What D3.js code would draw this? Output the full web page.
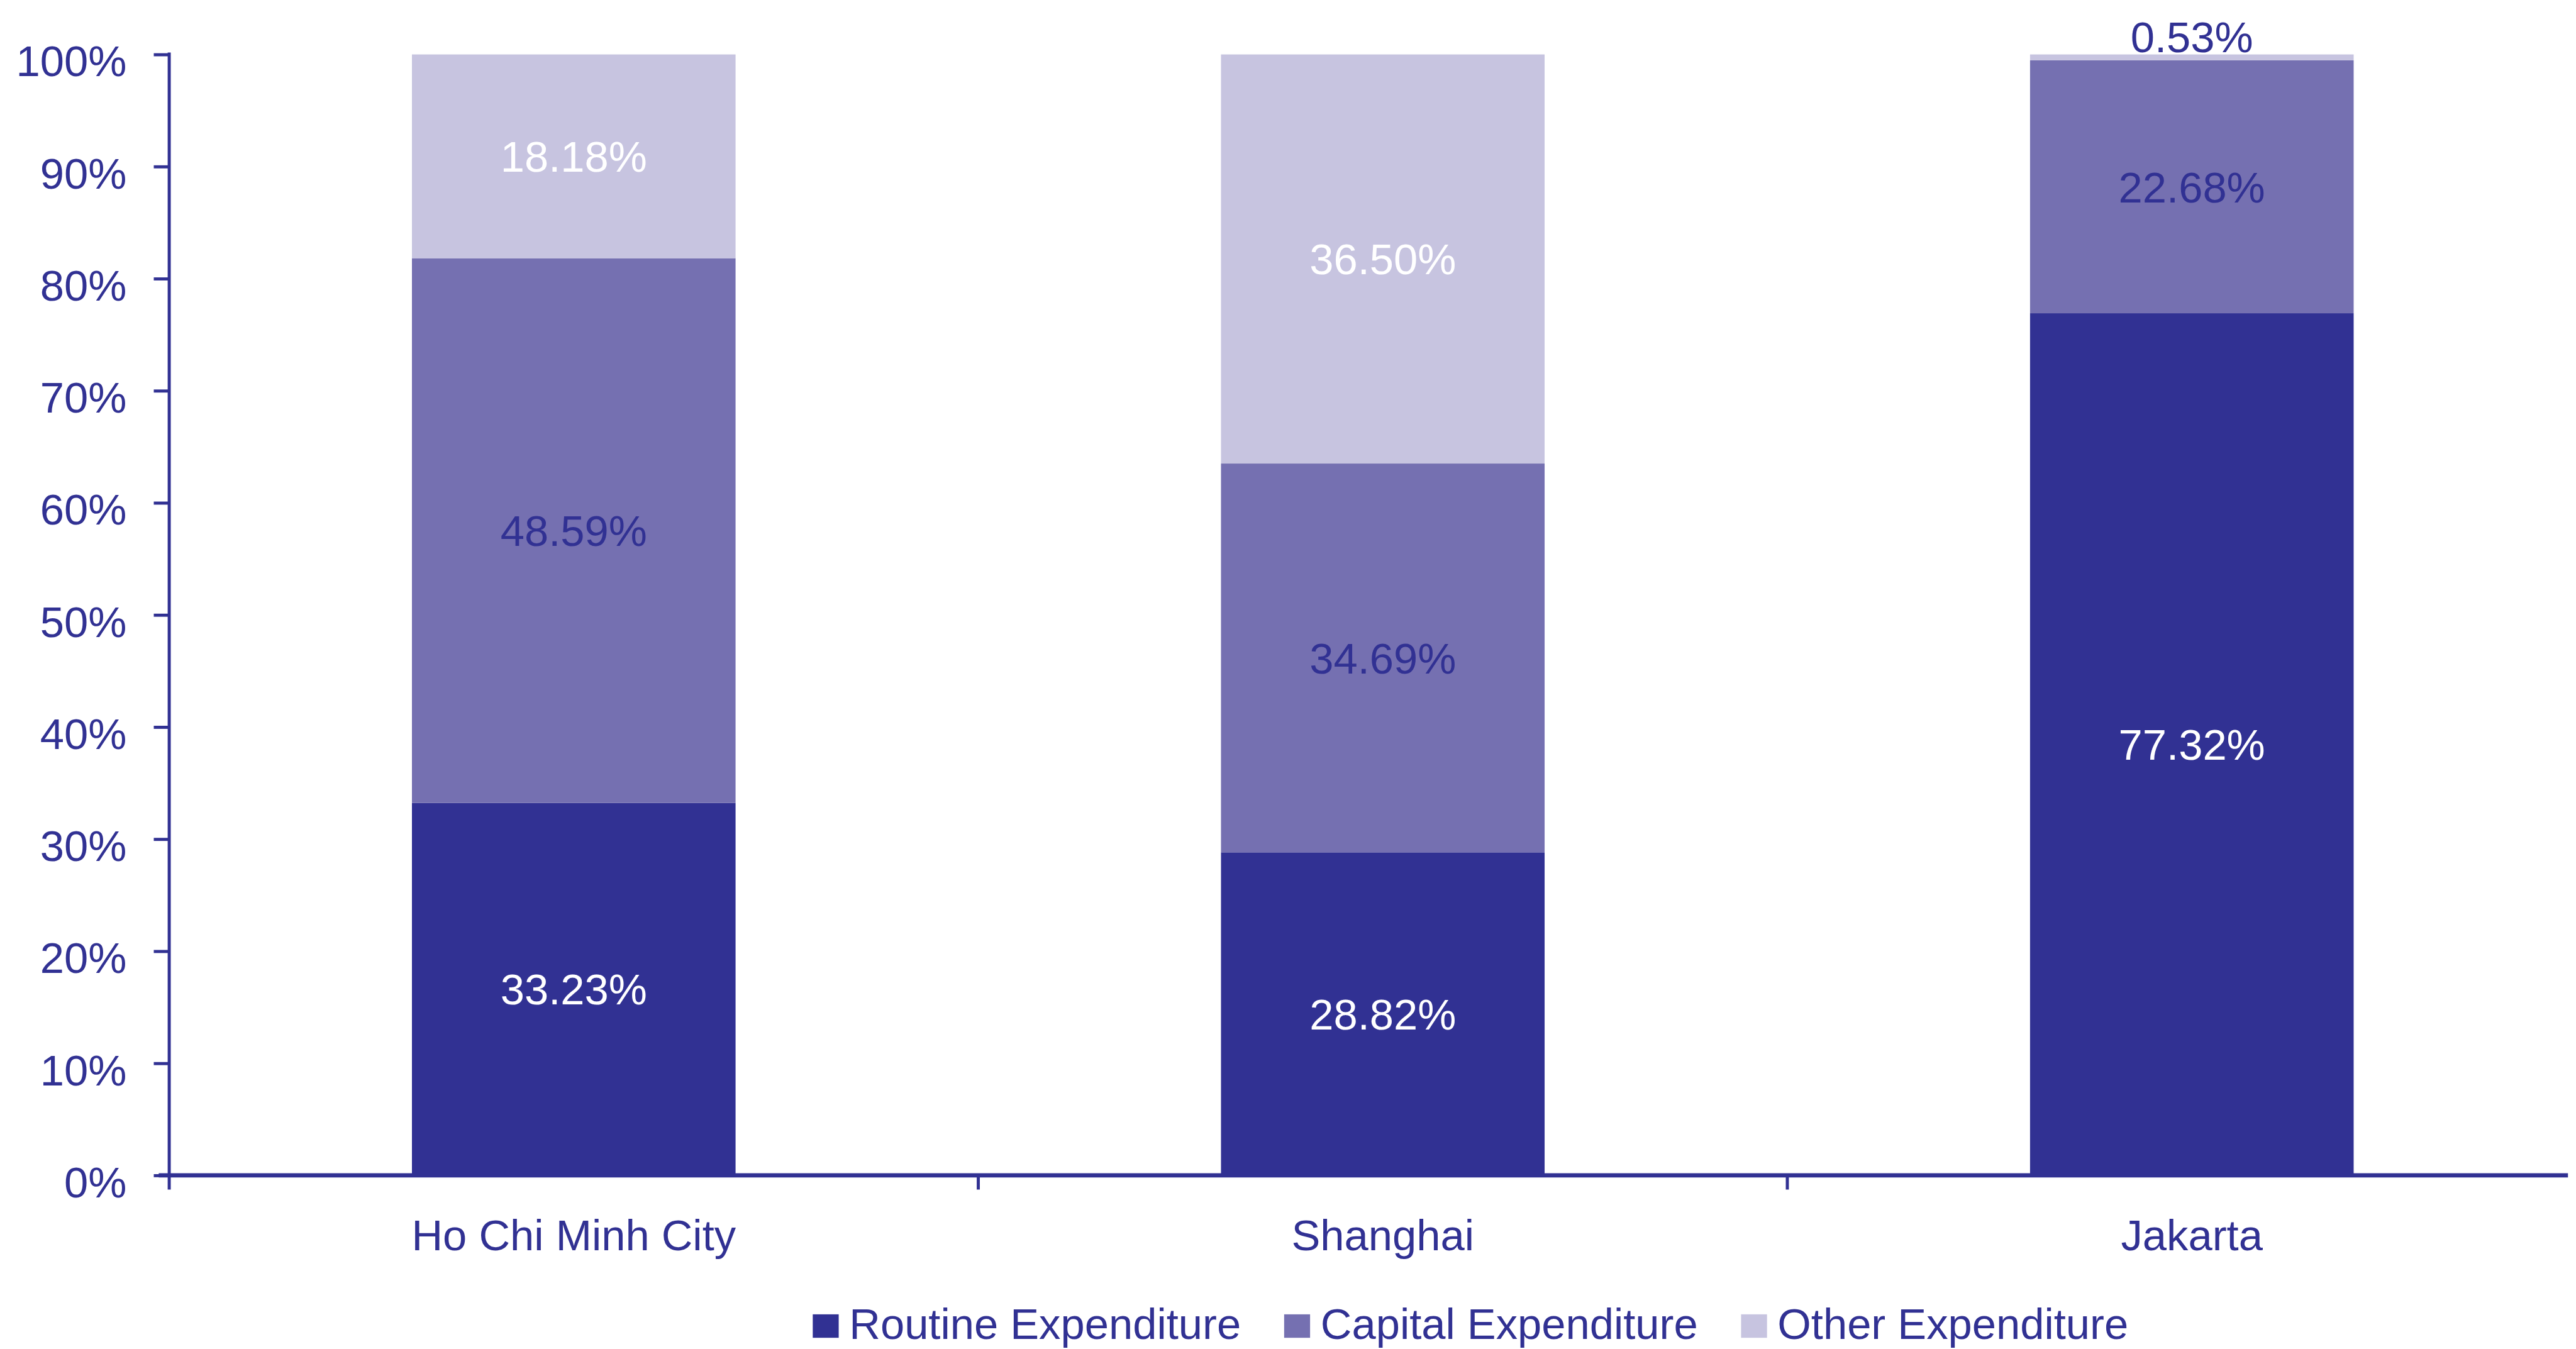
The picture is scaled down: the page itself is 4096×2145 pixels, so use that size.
<!DOCTYPE html>
<html>

<head>
    <meta charset="utf-8">
    <style>
        body {
            margin: 0;
            background: white;
        }

        svg {
            display: block;
            font-family: 'Liberation Sans', Arial, sans-serif;
        }
    </style>
</head>

<body>
    <svg width="4096" height="2145" viewBox="0 0 4171 2184"></svg>
</body>

<script src="https://d3js.org/d3.v7.min.js"></script>

<script>
    // chart data
    let categories = ["Ho Chi Minh City", "Shanghai", "Jakarta"]
    let seriesNames = ["Routine Expenditure", "Capital Expenditure", "Other Expenditure"]
    let routine = [33.23, 28.82, 77.32]
    let capital = [48.59, 34.69, 22.68]
    let other = [18.18, 36.50, 0.53]
    let yTicks = [0, 0.1, 0.2, 0.3, 0.4, 0.5, 0.6, 0.7, 0.8, 0.9, 1]

    let colors = ["#313193", "#7570b1", "#c7c4e0"]
    let labelColors = ["white", "#313193", "white"]
    let navy = "#313193"

    // drawing is done in the reference's own pixel space (viewBox does the 0.982)
    let plotLeft = 274, plotRight = 4204, plotTop = 88, plotBottom = 1903
    let axisEnd = 4158

    let rows = categories.map((c, i) => ({
        city: c,
        [seriesNames[0]]: routine[i],
        [seriesNames[1]]: capital[i],
        [seriesNames[2]]: other[i]
    }))

    let stacked = d3.stack()
        .keys(seriesNames)
        .offset(d3.stackOffsetExpand)(rows)

    let x = d3.scaleBand()
        .domain(categories)
        .range([plotLeft, plotRight])
        .paddingInner(0.6)
        .paddingOuter(0.3)

    let y = d3.scaleLinear()
        .domain([0, 1])
        .range([plotBottom, plotTop])

    let svg = d3.select("svg")

    // bars
    let layers = svg.append("g")
        .selectAll("g")
        .data(stacked)
        .join("g")
        .style("fill", (d, i) => colors[i])

    layers.selectAll("rect")
        .data(d => d)
        .join("rect")
        .attr("x", d => x(d.data.city))
        .attr("width", x.bandwidth())
        .attr("y", d => y(d[1]))
        .attr("height", d => y(d[0]) - y(d[1]))

    // value labels
    let fontSize = 70
    stacked.forEach((layer, si) => {
        let raw = [routine, capital, other][si]
        svg.append("g")
            .selectAll("text")
            .data(layer)
            .join("text")
            .attr("x", d => x(d.data.city) + x.bandwidth() / 2)
            .attr("y", (d, i) => {
                let h = y(d[0]) - y(d[1])
                if (h < fontSize) return y(d[1]) - 4
                return (y(d[0]) + y(d[1])) / 2 + 25
            })
            .attr("text-anchor", "middle")
            .style("font-size", fontSize + "px")
            .style("fill", d => (y(d[0]) - y(d[1]) < fontSize) ? navy : labelColors[si])
            .text((d, i) => raw[i].toFixed(2) + "%")
    })

    // y axis
    let yAxis = svg.append("g")
        .attr("transform", `translate(${plotLeft},0)`)
        .call(d3.axisLeft(y)
            .tickValues(yTicks)
            .tickFormat(d3.format(".0%"))
            .tickSize(25)
            .tickPadding(44))

    yAxis.select(".domain").remove()
    yAxis.selectAll(".tick line")
        .style("stroke", navy)
        .style("stroke-width", 5)
    yAxis.selectAll(".tick text")
        .attr("dy", "0.5em")
        .style("font-size", fontSize + "px")
        .style("font-family", "'Liberation Sans', Arial, sans-serif")
        .style("fill", navy)

    svg.append("line")
        .attr("x1", plotLeft).attr("x2", plotLeft)
        .attr("y1", plotTop - 3).attr("y2", plotBottom + 23)
        .style("stroke", navy)
        .style("stroke-width", 5)

    // x axis
    svg.append("line")
        .attr("x1", plotLeft - 17).attr("x2", axisEnd)
        .attr("y1", plotBottom).attr("y2", plotBottom)
        .style("stroke", navy)
        .style("stroke-width", 7)

    let step = x.step()
    svg.append("g")
        .selectAll("line")
        .data(categories.slice(1))
        .join("line")
        .attr("x1", (d, i) => plotLeft + (i + 1) * step)
        .attr("x2", (d, i) => plotLeft + (i + 1) * step)
        .attr("y1", plotBottom)
        .attr("y2", plotBottom + 23)
        .style("stroke", navy)
        .style("stroke-width", 5)

    svg.append("g")
        .selectAll("text")
        .data(categories)
        .join("text")
        .attr("x", d => x(d) + x.bandwidth() / 2)
        .attr("y", 2024)
        .attr("text-anchor", "middle")
        .style("font-size", fontSize + "px")
        .style("fill", navy)
        .text(d => d)

    // legend
    let legend = svg.append("g")
    let lx = 1316
    seriesNames.forEach((name, i) => {
        legend.append("rect")
            .attr("x", lx)
            .attr("y", 2128)
            .attr("width", 42)
            .attr("height", 38)
            .style("fill", colors[i])
        let t = legend.append("text")
            .attr("x", lx + 59)
            .attr("y", 2168)
            .style("font-size", fontSize + "px")
            .style("fill", navy)
            .text(name)
        lx = lx + 59 + t.node().getComputedTextLength() + 70
    })
</script>

</html>
